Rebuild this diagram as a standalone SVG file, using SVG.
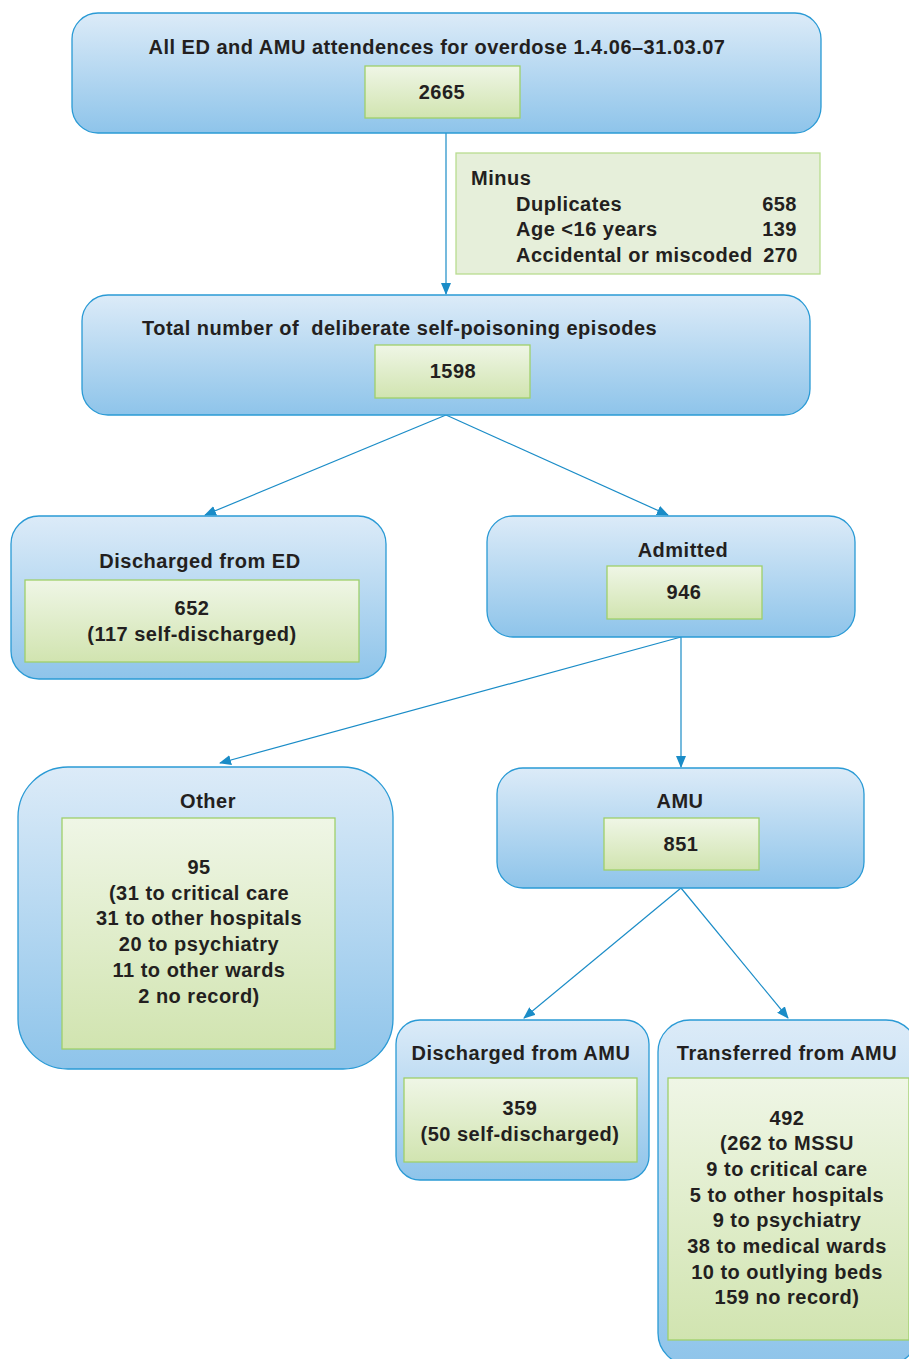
<svg xmlns="http://www.w3.org/2000/svg" width="909" height="1359" viewBox="0 0 909 1359">
<defs>
<linearGradient id="gBlue" x1="0" y1="0" x2="0" y2="1">
<stop offset="0" stop-color="#dcebf8"/>
<stop offset="1" stop-color="#8ec4ea"/>
</linearGradient>
<linearGradient id="gGreen" x1="0" y1="0" x2="0" y2="1">
<stop offset="0" stop-color="#eff6e6"/>
<stop offset="1" stop-color="#d1e4b0"/>
</linearGradient>
<marker id="arr" viewBox="0 0 12 10" refX="11" refY="5" markerWidth="12" markerHeight="10" markerUnits="userSpaceOnUse" orient="auto">
<path d="M0,0 L12,5 L0,10 Z" fill="#1a8cc7"/>
</marker>
<style>
.blue{fill:url(#gBlue);stroke:#2a9ad5;stroke-width:1.3}
.green{fill:url(#gGreen);stroke:#9fcf6a;stroke-width:1.3}
.minus{fill:#e6efda;stroke:#b9dc90;stroke-width:1.3}
text{font-family:"Liberation Sans",Arial,sans-serif;font-weight:bold;font-size:20px;letter-spacing:0.5px;fill:#231f20}
.c{text-anchor:middle}
.r{text-anchor:end}
.pre{white-space:pre}
.conn line{stroke:#1a8cc7;stroke-width:1.2;marker-end:url(#arr)}
</style>
</defs>
<g class="conn" id="connectors">
<line x1="446" y1="133" x2="446" y2="294"/>
<line x1="446" y1="415" x2="205" y2="515"/>
<line x1="446" y1="415" x2="668" y2="515"/>
<line x1="681" y1="637" x2="220" y2="763"/>
<line x1="681" y1="637" x2="681" y2="767"/>
<line x1="681" y1="888" x2="524" y2="1018"/>
<line x1="681" y1="888" x2="788" y2="1018"/>
</g>
<g id="n-all">
<rect class="blue" x="72" y="13" width="749" height="120" rx="26"/>
<text class="c" x="437" y="54">All ED and AMU attendences for overdose 1.4.06–31.03.07</text>
<rect class="green" x="365" y="66" width="155" height="52"/>
<text class="c" x="442" y="99">2665</text>
</g>
<g id="n-minus">
<rect class="minus" x="456" y="153" width="364" height="121"/>
<text x="471" y="185">Minus</text>
<text x="516" y="211">Duplicates</text>
<text class="r" x="797" y="211">658</text>
<text x="516" y="236">Age &lt;16 years</text>
<text class="r" x="797" y="236">139</text>
<text x="516" y="262">Accidental or miscoded</text>
<text class="r" x="798" y="262">270</text>
</g>
<g id="n-total">
<rect class="blue" x="82" y="295" width="728" height="120" rx="26"/>
<text class="pre" x="142" y="335">Total number of  deliberate self-poisoning episodes</text>
<rect class="green" x="375" y="345" width="155" height="53"/>
<text class="c" x="453" y="378">1598</text>
</g>
<g id="n-dischED">
<rect class="blue" x="11" y="516" width="375" height="163" rx="28"/>
<text class="c" x="200" y="568">Discharged from ED</text>
<rect class="green" x="25" y="580" width="334" height="82"/>
<text class="c" x="192" y="615">652</text>
<text class="c" x="192" y="641">(117 self-discharged)</text>
</g>
<g id="n-admitted">
<rect class="blue" x="487" y="516" width="368" height="121" rx="26"/>
<text class="c" x="683" y="557">Admitted</text>
<rect class="green" x="607" y="566" width="155" height="53"/>
<text class="c" x="684" y="599">946</text>
</g>
<g id="n-other">
<rect class="blue" x="18" y="767" width="375" height="302" rx="50"/>
<text class="c" x="208" y="808">Other</text>
<rect class="green" x="62" y="818" width="273" height="231"/>
<text class="c" x="199" y="874">95</text>
<text class="c" x="199" y="900">(31 to critical care</text>
<text class="c" x="199" y="925">31 to other hospitals</text>
<text class="c" x="199" y="951">20 to psychiatry</text>
<text class="c" x="199" y="977">11 to other wards</text>
<text class="c" x="199" y="1003">2 no record)</text>
</g>
<g id="n-amu">
<rect class="blue" x="497" y="768" width="367" height="120" rx="26"/>
<text class="c" x="680" y="808">AMU</text>
<rect class="green" x="604" y="818" width="155" height="52"/>
<text class="c" x="681" y="851">851</text>
</g>
<g id="n-dischAMU">
<rect class="blue" x="396" y="1020" width="253" height="160" rx="24"/>
<text class="c" x="521" y="1060">Discharged from AMU</text>
<rect class="green" x="404" y="1078" width="233" height="84"/>
<text class="c" x="520" y="1115">359</text>
<text class="c" x="520" y="1141">(50 self-discharged)</text>
</g>
<g id="n-transAMU">
<rect class="blue" x="658" y="1020" width="260" height="345" rx="32"/>
<text class="c" x="787" y="1060">Transferred from AMU</text>
<rect class="green" x="668" y="1078" width="241" height="262"/>
<text class="c" x="787" y="1125">492</text>
<text class="c" x="787" y="1150">(262 to MSSU</text>
<text class="c" x="787" y="1176">9 to critical care</text>
<text class="c" x="787" y="1202">5 to other hospitals</text>
<text class="c" x="787" y="1227">9 to psychiatry</text>
<text class="c" x="787" y="1253">38 to medical wards</text>
<text class="c" x="787" y="1279">10 to outlying beds</text>
<text class="c" x="787" y="1304">159 no record)</text>
</g>
</svg>
